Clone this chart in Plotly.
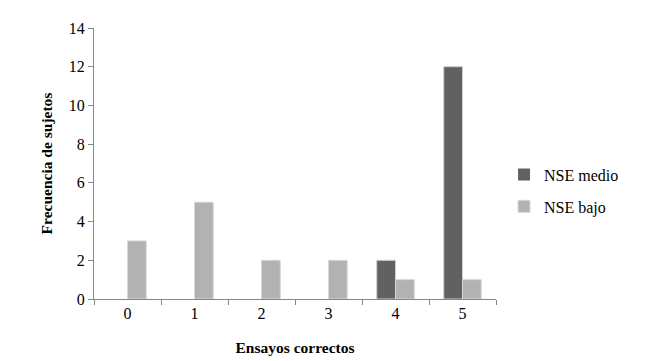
import plotly.graph_objects as go

categorias = ["0", "1", "2", "3", "4", "5"]
nse_medio = [0, 0, 0, 0, 2, 12]
nse_bajo = [3, 5, 2, 2, 1, 1]
y_ticks = [0, 2, 4, 6, 8, 10, 12, 14]

font = "Liberation Serif, Times New Roman, serif"


def edge(vals):
    return [0 if v == 0 else 1 for v in vals]


fig = go.Figure()
fig.add_trace(go.Bar(x=categorias, y=nse_medio, name="NSE medio", legendgroup="a",
                     marker=dict(color="#616161", line=dict(color="#cfcfcf", width=edge(nse_medio)))))
fig.add_trace(go.Bar(x=categorias, y=nse_bajo, name="NSE bajo", legendgroup="b",
                     marker=dict(color="#b2b2b2", line=dict(color="#d8d8d8", width=edge(nse_bajo)))))

fig.update_layout(
    width=648, height=361,
    margin=dict(l=86, r=160, t=14, b=70),
    paper_bgcolor="white", plot_bgcolor="white",
    barmode="group", bargap=0.44, bargroupgap=0,
    font=dict(family=font, size=16, color="black"),
    showlegend=True,
    legend=dict(x=1.02, y=0.40, xanchor="left", yanchor="middle",
                font=dict(family=font, size=16, color="black"), itemwidth=30,
                traceorder="grouped", tracegroupgap=8, bgcolor="rgba(0,0,0,0)"),
)
fig.update_xaxes(
    type="category", tickson="boundaries", ticks="outside", ticklen=5,
    tickcolor="#868686", showline=True, linecolor="#868686", linewidth=1,
    showgrid=False, tickfont=dict(family=font, size=16),
    title=dict(text="<b>Ensayos correctos</b>", font=dict(family=font, size=15.5), standoff=20),
)
fig.update_yaxes(
    range=[0, 14], tickvals=y_ticks, ticks="outside", ticklen=5,
    tickcolor="#868686", showline=True, linecolor="#868686", linewidth=1,
    showgrid=False, zeroline=False, tickfont=dict(family=font, size=16),
    title=dict(text="<b>Frecuencia de sujetos</b>", font=dict(family=font, size=15.5), standoff=12),
)

fig.write_html("out.html")
